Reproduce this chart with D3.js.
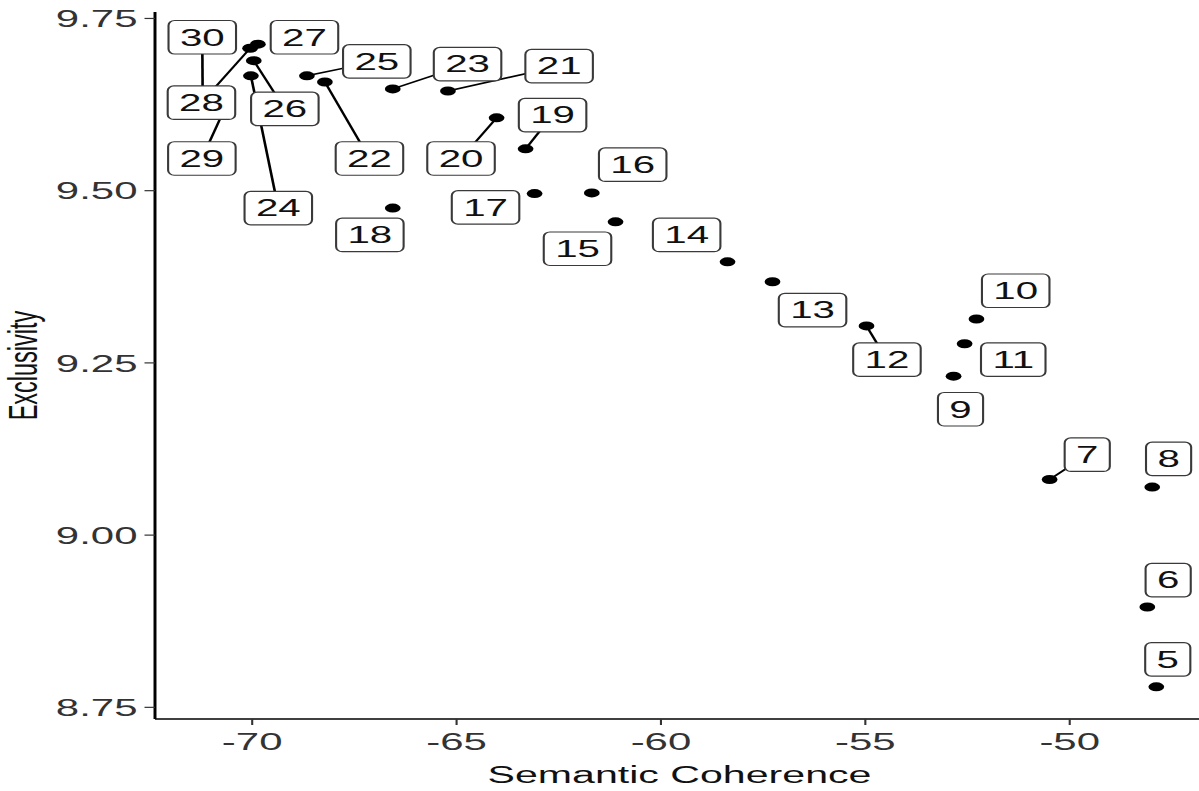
<!DOCTYPE html>
<html>
<head>
<meta charset="utf-8">
<script src="https://cdn.jsdelivr.net/npm/d3@7"></script>
<style>
  html, body { margin: 0; padding: 0; background: #fff; }
  svg { display: block; }
</style>
</head>
<body>
<svg id="chart" width="1199" height="791"></svg>
<script>
// Topic model diagnostics: one point per number of topics K.
const topics = [5, 6, 7, 8, 9, 10, 11, 12, 13, 14, 15, 16, 17, 18, 19, 20,
                21, 22, 23, 24, 25, 26, 27, 28, 29, 30];
const coherence = [-47.86, -48.08, -50.47, -47.96, -52.82, -52.26, -52.55, -54.95,
                   -57.25, -58.35, -61.09, -61.67, -63.07, -66.54, -63.29, -64.00,
                   -65.19, -68.20, -66.54, -70.01, -68.64, -69.94, -69.84, -70.03,
                   -70.60, -71.19];
const exclusivity = [8.779, 8.895, 9.080, 9.069, 9.230, 9.313, 9.277, 9.303,
                     9.367, 9.396, 9.454, 9.496, 9.495, 9.474, 9.560, 9.605,
                     9.644, 9.657, 9.647, 9.666, 9.666, 9.688, 9.712, 9.706,
                     9.625, 9.631];
// Where each repelled label ends up, in data units.
const labelCoherence = [-47.58, -47.57, -49.55, -47.56, -52.65, -51.30, -51.36, -54.45,
                        -56.27, -59.35, -62.02, -60.67, -64.27, -67.10, -62.63, -64.87,
                        -62.47, -67.11, -64.71, -69.34, -66.93, -69.18, -68.70, -71.22,
                        -71.21, -71.20];
const labelExclusivity = [8.819, 8.934, 9.116, 9.110, 9.182, 9.354, 9.254, 9.254,
                          9.326, 9.435, 9.415, 9.537, 9.475, 9.435, 9.609, 9.546,
                          9.680, 9.546, 9.683, 9.474, 9.687, 9.618, 9.722, 9.627,
                          9.546, 9.722];
// Labels far enough from their point to get a leader line.
const withLeader = [7, 12, 19, 20, 21, 22, 23, 24, 25, 26, 28, 29, 30];
const xTicks = [-70, -65, -60, -55, -50];
const yTicks = [8.75, 9.00, 9.25, 9.50, 9.75];
const xTitle = "Semantic Coherence";
const yTitle = "Exclusivity";

const rows = topics.map((k, i) => ({
  k, x: coherence[i], y: exclusivity[i],
  lx: labelCoherence[i], ly: labelExclusivity[i]
}));

// The chart is laid out in a narrow frame and widened horizontally.
const SX = 1.75;
const FONT = "'Liberation Sans', Arial, Helvetica, sans-serif";

const svg = d3.select("#chart");
const g = svg.append("g").attr("transform", `scale(${SX},1)`);

// ggplot-style 5% expansion of the data range
function expand(vals) {
  const [lo, hi] = d3.extent(vals);
  const pad = (hi - lo) * 0.05;
  return [lo - pad, hi + pad];
}

const panel = { left: 155 / SX, right: 1204 / SX, top: 12, bottom: 719 };

const x = d3.scaleLinear().domain(expand(coherence)).range([panel.left, panel.right]);
const y = d3.scaleLinear().domain(expand(exclusivity)).range([panel.bottom, panel.top]);

// Axes (plain hyphen-minus on negative ticks)
const xAxis = d3.axisBottom(x).tickValues(xTicks).tickFormat(d => String(d))
  .tickSizeInner(6).tickSizeOuter(0).tickPadding(6);
const yAxis = d3.axisLeft(y).tickValues(yTicks).tickFormat(d => d.toFixed(2))
  .tickSizeInner(6).tickSizeOuter(0).tickPadding(4);

const gx = g.append("g").attr("transform", `translate(0,${panel.bottom})`).call(xAxis);
const gy = g.append("g").attr("transform", `translate(${panel.left},0)`).call(yAxis);

[gx, gy].forEach(ax => {
  ax.select(".domain").attr("stroke", "#000").attr("stroke-width", 1.7);
  ax.selectAll(".tick line").attr("stroke", "#333").attr("stroke-width", 1.2);
  ax.selectAll(".tick text")
    .attr("fill", "#333")
    .style("font-family", FONT)
    .style("font-size", "24px");
});
gx.select(".domain").attr("d", `M${panel.left},0H${panel.right}`);
gy.select(".domain").attr("d", `M0,${panel.top}V${panel.bottom}`);
gy.selectAll(".tick text").attr("dy", "0.36em");
gx.selectAll(".tick text").attr("dy", "0.78em");

// Axis titles
g.append("text")
  .attr("x", (panel.left + panel.right) / 2)
  .attr("y", 783)
  .attr("text-anchor", "middle")
  .attr("fill", "#111")
  .style("font-family", FONT)
  .style("font-size", "23.5px")
  .text(xTitle);

g.append("text")
  .attr("transform", `translate(21,${(panel.top + panel.bottom) / 2}) rotate(-90)`)
  .attr("text-anchor", "middle")
  .attr("fill", "#111")
  .style("font-family", FONT)
  .style("font-size", "23.5px")
  .text(yTitle);

// Leader lines sit underneath points and labels
g.append("g").selectAll("line")
  .data(rows.filter(d => withLeader.includes(d.k)))
  .join("line")
  .attr("x1", d => x(d.x)).attr("y1", d => y(d.y))
  .attr("x2", d => x(d.lx)).attr("y2", d => y(d.ly))
  .attr("stroke", "#000")
  .attr("stroke-width", 1.5);

// Points
g.append("g").selectAll("circle")
  .data(rows)
  .join("circle")
  .attr("cx", d => x(d.x))
  .attr("cy", d => y(d.y))
  .attr("r", 4.5)
  .attr("fill", "#000");

// Labels: rounded white boxes with the topic count
const LABEL_FONT = 23, PAD_X = 6.5, BOX_H = 33.5;
const labels = g.append("g").selectAll("g")
  .data(rows)
  .join("g")
  .attr("transform", d => `translate(${x(d.lx)},${y(d.ly)})`);

labels.append("rect")
  .attr("fill", "#fff")
  .attr("stroke", "#3a3a3a")
  .attr("stroke-width", 1.2)
  .attr("rx", 3.5).attr("ry", 5);

labels.append("text")
  .attr("text-anchor", "middle")
  .attr("dy", (0.36 * LABEL_FONT) + "px")
  .attr("fill", "#111")
  .style("font-family", FONT)
  .style("font-size", LABEL_FONT + "px")
  .text(d => d.k);

labels.each(function () {
  const t = d3.select(this).select("text").node();
  const w = t.getComputedTextLength() + 2 * PAD_X;
  d3.select(this).select("rect")
    .attr("x", -w / 2).attr("y", -BOX_H / 2)
    .attr("width", w).attr("height", BOX_H);
});
</script>
</body>
</html>
